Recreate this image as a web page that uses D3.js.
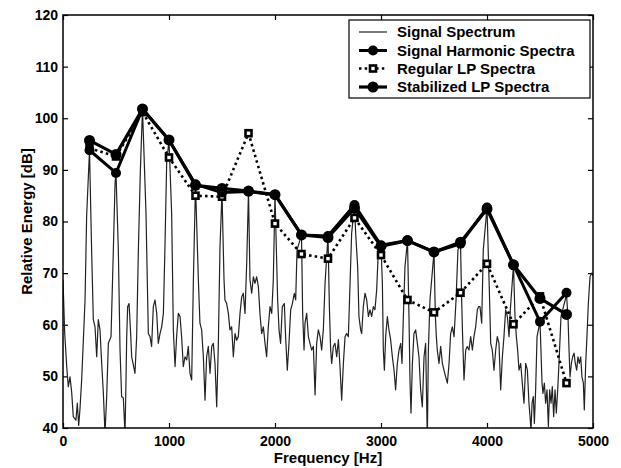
<!DOCTYPE html>
<html><head><meta charset="utf-8">
<script src="https://cdn.jsdelivr.net/npm/d3@7"></script>
<style>
body{margin:0;background:#fff;}
svg text{font-family:"Liberation Sans",Arial,sans-serif;font-weight:bold;fill:#000;}
</style></head><body>
<svg id="c" width="621" height="468"></svg>
<script>
const harmonicFreq = [250,500,750,1000,1250,1500,1750,2000,2250,2500,2750,3000,3250,3500,3750,4000,4250,4500,4750];
const signalHarmonic = [93.8,89.4,101.8,95.8,87.2,85.6,85.8,85.2,77.4,77.2,83.2,75.4,76.3,74.1,75.7,82.7,71.6,60.6,66.2];
const regularLP = [94.2,92.6,101.2,92.4,85.0,84.8,97.1,79.6,73.7,72.8,80.7,73.5,64.8,62.4,66.2,71.8,60.1,65.5,48.7];
const stabilizedLP = [95.7,93.0,101.8,95.8,87.0,86.4,85.9,85.2,77.4,76.9,82.6,75.2,76.3,74.1,76.0,82.4,71.6,65.1,62.0];

const specFreq = [0,16,35,50,66,82,97,122,135,148,160,176,192,208,223,250,270,286,302,318,333,349,365,381,396,412,428,453,475,491,500,522,538,553,569,585,594,601,610,623,635,648,664,679,695,711,730,750,783,805,821,836,852,868,884,899,915,931,947,962,978,1000,1025,1041,1057,1072,1088,1104,1119,1135,1151,1167,1182,1198,1214,1230,1250,1277,1292,1308,1324,1340,1355,1371,1387,1403,1418,1434,1450,1465,1481,1500,1519,1528,1544,1560,1575,1591,1607,1623,1638,1654,1670,1686,1701,1717,1733,1750,1764,1780,1796,1811,1827,1843,1858,1874,1890,1906,1921,1937,1953,1969,1984,2000,2025,2038,2053,2069,2088,2100,2116,2132,2148,2164,2182,2195,2208,2250,2261,2274,2283,2299,2315,2330,2346,2362,2378,2393,2409,2425,2440,2456,2472,2500,2513,2525,2535,2550,2566,2582,2598,2613,2629,2645,2661,2676,2692,2708,2723,2750,2761,2780,2792,2808,2818,2833,2849,2865,2881,2896,2912,2928,2943,2959,2975,3000,3013,3022,3032,3044,3060,3075,3091,3107,3123,3138,3154,3170,3186,3198,3211,3226,3250,3264,3274,3283,3296,3311,3327,3343,3358,3374,3390,3406,3421,3437,3447,3462,3500,3513,3522,3531,3547,3563,3579,3594,3610,3626,3642,3657,3673,3689,3708,3726,3750,3761,3770,3783,3799,3814,3830,3846,3862,3877,3893,3909,3921,3934,3950,3965,4000,4013,4022,4035,4050,4066,4082,4097,4113,4129,4145,4160,4176,4192,4208,4220,4250,4264,4277,4289,4302,4318,4333,4349,4365,4381,4396,4406,4415,4425,4437,4447,4459,4472,4500,4509,4519,4528,4541,4553,4566,4579,4591,4604,4616,4629,4642,4654,4667,4679,4698,4750,4764,4774,4783,4796,4808,4821,4833,4846,4858,4871,4884,4896,4909,4918,4931,4943,4956,4972,4987,5000];
const specDb = [68.7,58.4,51.9,48,49.9,46.9,42.2,41.5,44.8,40.5,43.6,49.3,57,64.8,81,93.8,74.5,61,59.6,53.8,61,59,52.5,46.7,39,46,56.4,57.7,74.5,87.4,89.4,74.5,55.1,46.1,45.8,39,48.7,57.7,63.5,64.1,59.6,53.8,52.2,50.6,57.7,74.5,90,101.8,81.6,58.3,57.7,55.8,63.5,64.8,62.2,56.4,58.3,59.6,62.2,75.1,91.3,95.8,81.6,59,51.9,57.7,62.2,61.6,57.7,51.9,53.8,53.2,55.8,50.6,49.3,68.7,87.2,68.7,60.3,59,53.8,45.4,53.8,55.8,50.6,55.8,56.4,52.5,44.1,55.8,75.1,85.6,68.7,64.8,64.1,62.2,59,59.6,53.8,58.3,57,57.7,62.2,65.4,66.1,62.2,71.9,85.8,68.7,66.1,69.3,68,69.3,67.4,62.2,58.3,59.6,56.4,53.8,59.6,63.5,62.2,68.7,85.2,64.8,59,56.4,63.5,64.1,57.7,51.2,56.4,62.9,64.1,66.1,64.8,74.5,77.4,62.2,55.1,60.3,62.2,57.7,56.4,55.1,55.8,46.4,56.4,59,57.7,55.1,59,68,77.2,63.5,55.1,52.5,55.8,56.4,53.8,57.1,51.9,45.4,52.5,57.7,58.3,57.7,68,77.7,83.2,77.7,71.2,61.6,59,58.3,63.5,66.1,64.8,61.6,62.9,61.6,63.5,62.9,66.7,74.5,75.4,68,55.1,51.2,57.7,61.6,59,57.1,53.8,51.2,47.4,52.5,55.1,56.4,52.5,61.6,71.2,76.3,61.6,48.7,42.9,52.5,58.3,59,56.4,53.8,47.4,44.1,53.8,56.4,37.7,55.1,64.8,74.1,61.6,57.7,55.1,52.5,55.8,52.5,51.2,49.9,48.7,52.5,58.3,59.6,57.7,64.8,74.5,75.7,64.8,57.7,49.3,55.1,55.8,55.1,57.7,55.1,57.7,59.6,62.9,63.5,63.5,60.3,74.5,82.7,73.2,66.7,56.4,55.1,51.2,55.1,57.7,56.4,47.4,53.8,57.7,62.9,61.6,57.7,62.9,71.6,61.6,57.7,55.1,51.2,52.5,48.7,44.8,52.5,51.2,44.8,42.2,39.6,44.8,46.1,40.9,47.4,57.7,60.6,55.1,48.7,46.7,48.7,44.8,47.4,40.3,47.4,44.8,48,42.2,47.4,42.9,47.4,52.5,61.6,65.8,61.6,55.1,49.9,52.5,53.8,54.5,52.5,51.2,53.8,52.5,53.8,49.9,48.7,43.5,52.5,57.7,64.1,69.3,70,69.5];

const xTicks = [0,1000,2000,3000,4000,5000];
const yTicks = [40,50,60,70,80,90,100,110,120];
const legendLabels = ["Signal Spectrum","Signal Harmonic Spectra","Regular LP Spectra","Stabilized LP Spectra"];
const xTitle = "Frequency [Hz]";
const yTitle = "Relative Energy [dB]";

const svg = d3.select("#c");
const L=63,R=593,T=15,B=428;
const x = d3.scaleLinear().domain([0,5000]).range([L,R]);
const y = d3.scaleLinear().domain([40,120]).range([B,T]);

svg.append("defs").append("clipPath").attr("id","clip")
  .append("rect").attr("x",L).attr("y",T).attr("width",R-L).attr("height",B-T);

function styleAxis(g, fs){
  g.select(".domain").remove();
  g.selectAll("line").attr("stroke","#000").attr("stroke-width",1.2);
  g.selectAll("text").attr("font-size",fs).attr("font-family",null);
  g.attr("font-family",null);
}
svg.append("g").attr("transform",`translate(0,${B})`)
  .call(d3.axisBottom(x).tickValues(xTicks).tickFormat(d3.format("d")).tickSizeInner(-5).tickSizeOuter(0).tickPadding(8))
  .call(g=>styleAxis(g,14));
svg.append("g").attr("transform",`translate(${L},0)`)
  .call(d3.axisLeft(y).tickValues(yTicks).tickFormat(d3.format("d")).tickSizeInner(-5).tickSizeOuter(0).tickPadding(5))
  .call(g=>styleAxis(g,14));
svg.append("g").attr("transform",`translate(0,${T})`)
  .call(d3.axisTop(x).tickValues(xTicks).tickFormat("").tickSizeInner(-5).tickSizeOuter(0))
  .call(g=>styleAxis(g,14));
svg.append("g").attr("transform",`translate(${R},0)`)
  .call(d3.axisRight(y).tickValues(yTicks).tickFormat("").tickSizeInner(-5).tickSizeOuter(0))
  .call(g=>styleAxis(g,14));

const plot = svg.append("g").attr("clip-path","url(#clip)");
const spec = specFreq.map((f,i)=>[f,specDb[i]]);
const line = d3.line().x(d=>x(d[0])).y(d=>y(d[1]));
plot.append("path").datum(spec).attr("d",line)
  .attr("fill","none").attr("stroke","#222").attr("stroke-width",1.2).attr("stroke-linejoin","round");

const regPts = harmonicFreq.map((f,i)=>[f,regularLP[i]]);
const harPts = harmonicFreq.map((f,i)=>[f,signalHarmonic[i]]);
const stbPts = harmonicFreq.map((f,i)=>[f,stabilizedLP[i]]);

svg.append("path").datum(regPts).attr("d",line).attr("fill","none")
  .attr("stroke","#000").attr("stroke-width",2.6).attr("stroke-dasharray","2.5,3.2");
svg.append("path").datum(harPts).attr("d",line).attr("fill","none")
  .attr("stroke","#000").attr("stroke-width",3).attr("stroke-linejoin","round");
svg.append("path").datum(stbPts).attr("d",line).attr("fill","none")
  .attr("stroke","#000").attr("stroke-width",3.2).attr("stroke-linejoin","round");

svg.selectAll(".sq").data(regPts).join("rect").attr("class","sq")
  .attr("x",d=>x(d[0])-3).attr("y",d=>y(d[1])-3).attr("width",6).attr("height",6)
  .attr("fill","#fff").attr("stroke","#000").attr("stroke-width",2.6);
svg.selectAll(".hc").data(harPts).join("circle").attr("class","hc")
  .attr("cx",d=>x(d[0])).attr("cy",d=>y(d[1])).attr("r",5).attr("fill","#000");
svg.selectAll(".sc").data(stbPts).join("circle").attr("class","sc")
  .attr("cx",d=>x(d[0])).attr("cy",d=>y(d[1])).attr("r",5.5).attr("fill","#000");

svg.append("rect").attr("x",L).attr("y",T).attr("width",R-L).attr("height",B-T)
  .attr("fill","none").attr("stroke","#000").attr("stroke-width",1.5);

// legend
const lg = svg.append("g");
lg.append("rect").attr("x",349).attr("y",20).attr("width",241).attr("height",78)
  .attr("fill","#fff").attr("stroke","#000").attr("stroke-width",1.2);
const rowY = [32,50.5,68.5,87];
const lx1=359, lx2=387, lxm=373;
legendLabels.forEach((t,i)=>{
  lg.append("text").attr("x",397).attr("y",rowY[i]).attr("dy","0.36em")
    .attr("font-size",15).text(t);
});
lg.append("line").attr("x1",lx1).attr("x2",lx2).attr("y1",rowY[0]).attr("y2",rowY[0]).attr("stroke","#222").attr("stroke-width",1.2);
lg.append("line").attr("x1",lx1).attr("x2",lx2).attr("y1",rowY[1]).attr("y2",rowY[1]).attr("stroke","#000").attr("stroke-width",3);
lg.append("circle").attr("cx",lxm).attr("cy",rowY[1]).attr("r",5).attr("fill","#000");
lg.append("line").attr("x1",lx1).attr("x2",lx2).attr("y1",rowY[2]).attr("y2",rowY[2]).attr("stroke","#000").attr("stroke-width",2.6).attr("stroke-dasharray","2.5,3.2");
lg.append("rect").attr("x",lxm-3).attr("y",rowY[2]-3).attr("width",6).attr("height",6).attr("fill","#fff").attr("stroke","#000").attr("stroke-width",2.6);
lg.append("line").attr("x1",lx1).attr("x2",lx2).attr("y1",rowY[3]).attr("y2",rowY[3]).attr("stroke","#000").attr("stroke-width",3.2);
lg.append("circle").attr("cx",lxm).attr("cy",rowY[3]).attr("r",5.5).attr("fill","#000");

svg.append("text").attr("x",(L+R)/2).attr("y",458).attr("dy","0.36em").attr("text-anchor","middle")
  .attr("font-size",15).text(xTitle);
svg.append("text").attr("transform",`translate(27,${(T+B)/2}) rotate(-90)`).attr("dy","0.36em")
  .attr("text-anchor","middle").attr("font-size",15).text(yTitle);
</script>
</body></html>
